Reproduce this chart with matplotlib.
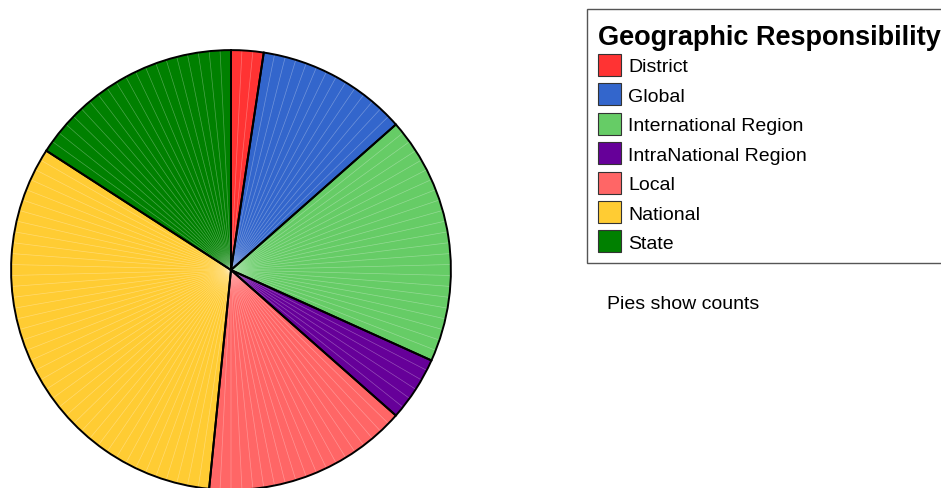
import matplotlib
matplotlib.use("Agg")
import matplotlib.pyplot as plt
from matplotlib.patches import Rectangle
import numpy as np

plt.rcParams['font.family'] = ['Liberation Sans', 'DejaVu Sans']

categories = ["District", "Global", "International Region", "IntraNational Region",
              "Local", "National", "State"]
counts = [3, 14, 23, 6, 19, 41, 20]
colors = ["#FF3333", "#3366CC", "#66CC66", "#660099", "#FF6666", "#FFCC33", "#008000"]
legend_title = "Geographic Responsibility"
note = "Pies show counts"

W, H = 941, 489
fig = plt.figure(figsize=(W / 100, H / 100), dpi=100)

cx, cy, r = 231, 271, 221
ax = fig.add_axes([(cx - r) / W, (H - cy - r) / H, 2 * r / W, 2 * r / H])

# filled category wedges
ax.pie(counts, colors=colors, startangle=90, counterclock=False, radius=1,
       wedgeprops=dict(linewidth=0))
# faint unit seams
units = np.ones(int(sum(counts)))
ax.pie(units, startangle=90, counterclock=False, radius=1,
       wedgeprops=dict(fill=False, edgecolor=(1, 1, 1, 0.16), linewidth=0.5))
# black outlines
ax.pie(counts, startangle=90, counterclock=False, radius=1,
       wedgeprops=dict(fill=False, edgecolor="black", linewidth=1.4))
ax.set_xlim(-1.005, 1.005)
ax.set_ylim(-1.005, 1.005)
ax.set_aspect('auto')
ax.axis('off')

def fx(x):
    return x / W

def fy(y):
    return (H - y) / H

# legend box
fig.patches.append(Rectangle((fx(587), fy(264)), fx(400), (264 - 10) / H,
                             transform=fig.transFigure, facecolor="white",
                             edgecolor="#555555", linewidth=1.0, zorder=1))
fig.text(fx(598), fy(45), legend_title, fontsize=19.5, fontweight='bold',
         ha='left', va='baseline', color='black')
row_y0, row_dy = 66, 29.4
for i, (cat, col) in enumerate(zip(categories, colors)):
    yc = row_y0 + i * row_dy
    fig.patches.append(Rectangle((fx(598), fy(yc + 11)), 23 / W, 22 / H,
                                 transform=fig.transFigure, facecolor=col,
                                 edgecolor="#333333", linewidth=0.8, zorder=2))
    fig.text(fx(628), fy(yc), cat, fontsize=14, ha='left', va='center_baseline',
             color='black')

fig.text(fx(607), fy(303), note, fontsize=14, ha='left', va='center_baseline',
         color='black')

fig.savefig("out.png", dpi=100)
